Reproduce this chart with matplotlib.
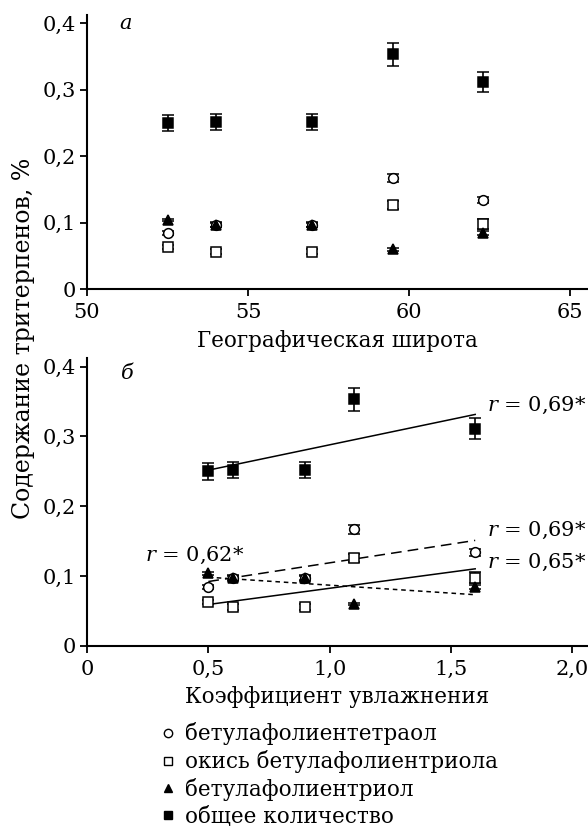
import numpy as np
import matplotlib.pyplot as plt
from matplotlib.lines import Line2D
from matplotlib.ticker import FuncFormatter

# data
lat = [52.5, 54.0, 57.0, 59.5, 62.3]
humid = [0.5, 0.6, 0.9, 1.1, 1.6]

tetraol = [0.084, 0.097, 0.097, 0.167, 0.134]
tetraol_err = [0.003, 0.004, 0.004, 0.006, 0.005]
oxide = [0.063, 0.056, 0.056, 0.126, 0.098]
oxide_err = [0.003, 0.004, 0.004, 0.006, 0.008]
triol = [0.104, 0.097, 0.097, 0.060, 0.084]
triol_err = [0.002, 0.003, 0.003, 0.002, 0.003]
total = [0.250, 0.252, 0.252, 0.353, 0.311]
total_err = [0.012, 0.012, 0.012, 0.017, 0.015]

names = ["бетулафолиентетраол", "окись бетулафолиентриола",
         "бетулафолиентриол", "общее количество"]

plt.rcParams["font.family"] = "DejaVu Serif"
plt.rcParams["mathtext.fontset"] = "dejavuserif"
plt.rcParams["font.size"] = 15

comma = FuncFormatter(lambda v, p: "0" if v == 0 else ("%.1f" % v).replace(".", ","))

fig = plt.figure(figsize=(5.88, 8.27), dpi=100)
ax1 = fig.add_axes([0.148, 0.6505, 0.852, 0.331])
ax2 = fig.add_axes([0.148, 0.2189, 0.852, 0.348])

series = [
    (tetraol, tetraol_err, dict(marker="o", mfc="white", mec="black")),
    (oxide, oxide_err, dict(marker="s", mfc="white", mec="black")),
    (triol, triol_err, dict(marker="^", mfc="black", mec="black")),
    (total, total_err, dict(marker="s", mfc="black", mec="black")),
]

for ax, xs in [(ax1, lat), (ax2, humid)]:
    for y, e, st in series:
        ax.errorbar(xs, y, yerr=e, ls="none", ecolor="black", elinewidth=1.2,
                    capsize=4.5, capthick=1.2, ms=7, mew=1.1, **st)
    ax.spines["top"].set_visible(False)
    ax.spines["right"].set_visible(False)
    ax.spines["left"].set_linewidth(1.5)
    ax.spines["bottom"].set_linewidth(1.5)
    ax.tick_params(width=1.3, length=5, labelsize=15)
    ax.tick_params(axis="x", pad=5)
    ax.tick_params(axis="y", pad=3)
    ax.set_ylim(0, 0.412)
    ax.set_yticks([0, 0.1, 0.2, 0.3, 0.4])
    ax.yaxis.set_major_formatter(comma)

ax1.set_xlim(50, 65.56)
ax1.set_xticks([50, 55, 60, 65])
ax1.set_xlabel("Географическая широта", labelpad=6, fontsize=15.5)
ax1.text(51.0, 0.40, "a", style="italic", fontsize=15, va="center")

# regression lines on humidity
hx = np.array([min(humid), max(humid)])
line_styles = [(0, (7, 4)), "-", (0, (3, 2.5)), "-"]
for (y, e, st), ls in zip(series, line_styles):
    k, b = np.polyfit(humid, y, 1)
    ax2.plot(hx, k * hx + b, color="black", lw=1.1, ls=ls)

ax2.set_xlim(0, 2.065)
ax2.set_xticks([0, 0.5, 1.0, 1.5, 2.0])
ax2.xaxis.set_major_formatter(comma)
ax2.set_xlabel("Коэффициент увлажнения", labelpad=5, fontsize=15.5)
ax2.text(0.14, 0.39, "б", style="italic", fontsize=15, va="center")

ax2.text(1.65, 0.345, "$r$ = 0,69*", fontsize=15, va="center")
ax2.text(1.65, 0.165, "$r$ = 0,69*", fontsize=15, va="center")
ax2.text(1.65, 0.119, "$r$ = 0,65*", fontsize=15, va="center")
ax2.text(0.24, 0.129, "$r$ = 0,62*", fontsize=15, va="center")

fig.text(0.040, 0.591, "Содержание тритерпенов, %", rotation=90,
         ha="center", va="center", fontsize=17)

handles = [Line2D([], [], ls="none", ms=6, mew=1, **st) for _, _, st in series]
fig.legend(handles, names, loc="upper left", bbox_to_anchor=(0.267, 0.1264),
           frameon=False, fontsize=15.5, handletextpad=0.3, labelspacing=0.22,
           handlelength=1.0, borderaxespad=0, borderpad=0)

fig.savefig("out.png", dpi=100)
